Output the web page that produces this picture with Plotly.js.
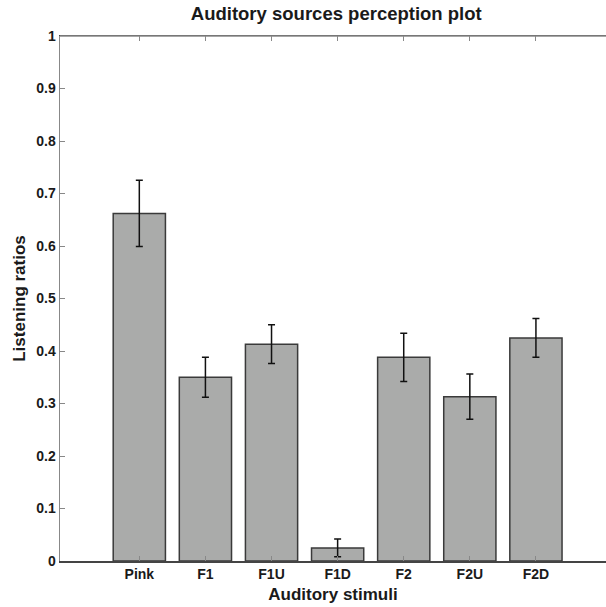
<!DOCTYPE html>
<html>
<head>
<meta charset="utf-8">
<script src="https://cdn.plot.ly/plotly-3.0.1.min.js"></script>
<style>html,body{margin:0;padding:0;background:#fff;}#chart{width:606px;height:607px;}</style>
</head>
<body>
<div id="chart"></div>
<script>
const categories = ["Pink", "F1", "F1U", "F1D", "F2", "F2U", "F2D"];
const positions = [1, 2, 3, 4, 5, 6, 7];
const ratios = [0.662, 0.350, 0.413, 0.025, 0.388, 0.313, 0.425];
const errors = [0.063, 0.038, 0.037, 0.017, 0.046, 0.043, 0.037];
const yTicks = [0, 0.1, 0.2, 0.3, 0.4, 0.5, 0.6, 0.7, 0.8, 0.9, 1];
const yTickText = ["0", "0.1", "0.2", "0.3", "0.4", "0.5", "0.6", "0.7", "0.8", "0.9", "1"];

const fontFam = "Liberation Sans, Arial, sans-serif";
const bold = s => "<b>" + s + "</b>";

const trace = {
  type: "bar",
  x: positions,
  y: ratios,
  width: 0.79,
  marker: {color: "#aaabaa", line: {color: "#3a3a3a", width: 1.5}},
  error_y: {type: "data", array: errors, visible: true, color: "#111", thickness: 1.5, width: 3.5},
  hoverinfo: "skip"
};

const layout = {
  width: 606, height: 607,
  margin: {l: 60, r: 0, t: 36, b: 46},
  paper_bgcolor: "#fff", plot_bgcolor: "#fff",
  showlegend: false,
  font: {family: fontFam, color: "#1a1a1a"},
  title: {text: bold("Auditory sources perception plot"), x: 0.506, xref: "paper", xanchor: "center", y: 0.978, yanchor: "middle",
          font: {family: fontFam, size: 18.5, color: "#1a1a1a"}},
  xaxis: {
    range: [-0.2, 8.06],
    tickvals: positions, ticktext: categories.map(bold),
    ticks: "inside", ticklen: 5, tickcolor: "#888", tickwidth: 1,
    showline: true, linecolor: "#444", linewidth: 1.5,
    mirror: "ticks",
    showgrid: false, zeroline: false,
    tickfont: {family: fontFam, size: 14, color: "#1a1a1a"},
    title: {text: bold("Auditory stimuli"), font: {family: fontFam, size: 17, color: "#1a1a1a"}, standoff: 7}
  },
  yaxis: {
    range: [0, 1],
    tickvals: yTicks, ticktext: yTickText.map(bold),
    ticks: "inside", ticklen: 5, tickcolor: "#888", tickwidth: 1,
    showline: true, linecolor: "#888", linewidth: 1.5,
    showgrid: false, zeroline: false,
    tickfont: {family: fontFam, size: 14, color: "#1a1a1a"},
    title: {text: bold("Listening ratios"), font: {family: fontFam, size: 17, color: "#1a1a1a"}, standoff: 6}
  },
  shapes: [
    {type: "line", xref: "paper", yref: "paper", x0: 0, x1: 1, y0: 1, y1: 1, line: {color: "#888", width: 1.5}}
  ]
};

Plotly.newPlot("chart", [trace], layout, {displayModeBar: false, staticPlot: true});
</script>
</body>
</html>
